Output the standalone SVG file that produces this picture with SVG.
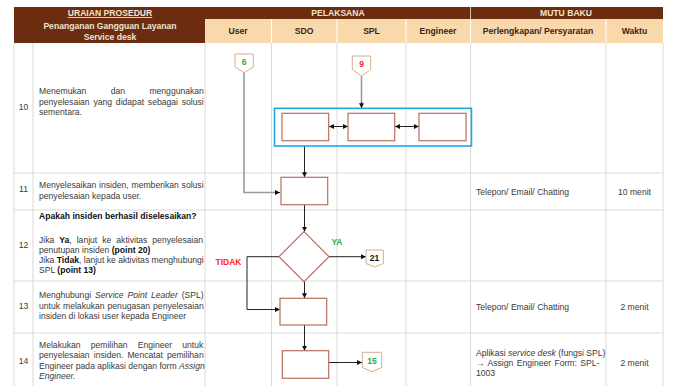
<svg xmlns="http://www.w3.org/2000/svg" width="673" height="386" viewBox="0 0 673 386">
<style>
.g{stroke:#d9d9d9;stroke-width:1;fill:none}
.t{font-family:"Liberation Sans",Arial,sans-serif;font-size:8.6px;fill:#3a3a3a}
.c{text-anchor:middle}
.b{font-weight:bold;fill:#111}
.i{font-style:italic}
.hd{font-family:"Liberation Sans",Arial,sans-serif;font-size:8.6px;font-weight:bold;fill:#f3e3cf;text-anchor:middle}
.hc{font-family:"Liberation Sans",Arial,sans-serif;font-size:8.6px;font-weight:bold;fill:#3b2414;text-anchor:middle}
.box{fill:#fff;stroke:#b86f5c;stroke-width:1.2}
.off{fill:#fff;stroke:#d8ae8c;stroke-width:1}
.ln{stroke:#222;stroke-width:1;fill:none}
.gl{stroke:#9a9a9a;stroke-width:1.6;fill:none}
.lbl{font-family:"Liberation Sans",Arial,sans-serif;font-size:8.5px;font-weight:bold;text-anchor:middle}
</style>
<defs>
<marker id="ah" viewBox="0 0 10 10" refX="10" refY="5" markerWidth="5" markerHeight="5" orient="auto-start-reverse" markerUnits="userSpaceOnUse">
<path d="M0,0 L10,5 L0,10 z" fill="#111"/>
</marker>
</defs>
<rect width="673" height="386" fill="#fff"/>

<g id="table">
<rect x="14" y="7" width="191" height="36" fill="#6b2c10"/>
<rect x="205" y="7" width="458" height="12" fill="#6b2c10"/>
<rect x="205" y="19" width="458" height="24" fill="#f9d9ab"/>
<line x1="470.5" y1="7" x2="470.5" y2="19" stroke="#f3e3cf" stroke-width="0.8"/>
<g stroke="#ffffff" stroke-width="1">
<line x1="271.5" y1="19" x2="271.5" y2="43"/>
<line x1="337" y1="19" x2="337" y2="43"/>
<line x1="406" y1="19" x2="406" y2="43"/>
<line x1="470.5" y1="19" x2="470.5" y2="43"/>
<line x1="606" y1="19" x2="606" y2="43"/>
</g>
<text class="hd" x="110" y="16" text-decoration="underline">URAIAN PROSEDUR</text>
<text class="hd" x="110" y="29">Penanganan Gangguan Layanan</text>
<text class="hd" x="110" y="39.5">Service desk</text>
<text class="hd" x="338" y="16">PELAKSANA</text>
<text class="hd" x="566" y="16">MUTU BAKU</text>
<text class="hc" x="238" y="34">User</text>
<text class="hc" x="304" y="34">SDO</text>
<text class="hc" x="371.5" y="34">SPL</text>
<text class="hc" x="438" y="34">Engineer</text>
<text class="hc" x="538" y="34">Perlengkapan/ Persyaratan</text>
<text class="hc" x="634.5" y="34">Waktu</text>
<g class="g">
<line x1="14" y1="43" x2="14" y2="386"/>
<line x1="33" y1="43" x2="33" y2="386"/>
<line x1="205" y1="43" x2="205" y2="386"/>
<line x1="271.5" y1="43" x2="271.5" y2="386"/>
<line x1="337" y1="43" x2="337" y2="386"/>
<line x1="406" y1="43" x2="406" y2="386"/>
<line x1="470.5" y1="43" x2="470.5" y2="386"/>
<line x1="606" y1="43" x2="606" y2="386"/>
<line x1="663" y1="43" x2="663" y2="386"/>
<line x1="14" y1="173" x2="663" y2="173"/>
<line x1="14" y1="210" x2="663" y2="210"/>
<line x1="14" y1="281" x2="663" y2="281"/>
<line x1="14" y1="333" x2="663" y2="333"/>
</g>
</g>

<g id="texts">
<text class="t c" x="23.5" y="110">10</text>
<text class="t" x="39" y="94" word-spacing="22">Menemukan dan menggunakan</text>
<text class="t" x="39" y="104.5" word-spacing="1.4">penyelesaian yang didapat sebagai solusi</text>
<text class="t" x="39" y="115">sementara.</text>

<text class="t c" x="23.5" y="191.5">11</text>
<text class="t" x="39" y="188" word-spacing="0.4">Menyelesaikan insiden, memberikan solusi</text>
<text class="t" x="39" y="199">penyelesaian kepada user.</text>
<text class="t" x="476" y="195">Telepon/ Email/ Chatting</text>
<text class="t c" x="634.5" y="195">10 menit</text>

<text class="t c" x="23.5" y="248">12</text>
<text class="t b" x="39" y="218.5">Apakah insiden berhasil diselesaikan?</text>
<text class="t" x="39" y="242.5" word-spacing="2.6">Jika <tspan class="b">Ya</tspan>, lanjut ke aktivitas penyelesaian</text>
<text class="t" x="39" y="252.5">penutupan insiden <tspan class="b">(point 20)</tspan></text>
<text class="t" x="39" y="262.5">Jika <tspan class="b">Tidak</tspan>, lanjut ke aktivitas menghubungi</text>
<text class="t" x="39" y="273">SPL <tspan class="b">(point 13)</tspan></text>

<text class="t c" x="23.5" y="309">13</text>
<text class="t" x="39" y="298" word-spacing="1.5">Menghubungi <tspan class="i">Service Point Leader</tspan> (SPL)</text>
<text class="t" x="39" y="308.5" word-spacing="0.6">untuk melakukan penugasan penyelesaian</text>
<text class="t" x="39" y="319">insiden di lokasi user kepada Engineer</text>
<text class="t" x="476" y="309.5">Telepon/ Email/ Chatting</text>
<text class="t c" x="634.5" y="309.5">2 menit</text>

<text class="t c" x="23.5" y="364">14</text>
<text class="t" x="39" y="347.5" word-spacing="7.8">Melakukan pemilihan Engineer untuk</text>
<text class="t" x="39" y="358" word-spacing="1.7">penyelesaian insiden. Mencatat pemilihan</text>
<text class="t" x="39" y="368.5">Engineer pada aplikasi dengan form <tspan class="i">Assign</tspan></text>
<text class="t i" x="39" y="379">Engineer.</text>
<text class="t" x="476" y="356">Aplikasi <tspan class="i">service desk</tspan> (fungsi SPL)</text>
<text class="t" x="476" y="366" word-spacing="1">→ Assign Engineer Form: SPL-</text>
<text class="t" x="476" y="376">1003</text>
<text class="t c" x="634.5" y="366">2 menit</text>
</g>

<g id="connectors">
<path class="gl" d="M244,72.5 V192.5 H276"/>
<path class="ln" d="M276,192.5 H280" marker-end="url(#ah)"/>
<path class="gl" d="M361.5,76 V103"/>
<path class="ln" d="M361.5,102 V108.3" marker-end="url(#ah)"/>
<path class="ln" d="M329,126.5 H348" marker-start="url(#ah)" marker-end="url(#ah)"/>
<path class="ln" d="M395,126.5 H419" marker-start="url(#ah)" marker-end="url(#ah)"/>
<path class="ln" d="M304.5,146 V177.3" marker-end="url(#ah)"/>
<path class="ln" d="M304.5,204.7 V231.7" marker-end="url(#ah)"/>
<path class="ln" d="M329,256.7 H366" marker-end="url(#ah)"/>
<path class="ln" d="M279,256.7 H247 V309.5 H280" marker-end="url(#ah)"/>
<path class="ln" d="M304.5,281.7 V298.3" marker-end="url(#ah)"/>
<path class="ln" d="M304.5,325 V350.7" marker-end="url(#ah)"/>
<path class="ln" d="M328.7,362.5 H362" marker-end="url(#ah)"/>
</g>

<g id="off6"><polygon class="off" points="235,54 253.3,54 253.3,67 244.2,72.7 235,67"/><text class="lbl" x="244.2" y="65" fill="#1fae50">6</text></g>
<g id="off9"><polygon class="off" points="352.3,56 370.7,56 370.7,69.5 361.5,76 352.3,69.5"/><text class="lbl" x="361.5" y="67" fill="#ff2a2a">9</text></g>

<g id="group10"><rect x="274.5" y="108.3" width="197" height="37.7" fill="none" stroke="#1ea8e3" stroke-width="1.6"/></g>
<g id="box10a"><rect class="box" x="282" y="113.3" width="46.7" height="27.4"/></g>
<g id="box10b"><rect class="box" x="348" y="113.3" width="46.7" height="27.4"/></g>
<g id="box10c"><rect class="box" x="419" y="113.3" width="47" height="27.4"/></g>
<g id="box11"><rect class="box" x="281" y="177.3" width="46.7" height="27.4"/></g>
<g id="dec12"><polygon class="box" points="304,231.7 329,256.7 304,281.7 279,256.7"/></g>
<text id="ya" class="lbl" x="337" y="244.5" fill="#1fae50">YA</text>
<text id="tidak" class="lbl" x="228.5" y="265" fill="#ff2a2a">TIDAK</text>
<g id="off21"><polygon class="off" points="366,250 383.3,250 383.3,263.5 374.6,267 366,263.5"/><text class="lbl" x="374.6" y="261" fill="#111">21</text></g>
<g id="box13"><rect class="box" x="280" y="298.3" width="46.7" height="26.7"/></g>
<g id="box14"><rect class="box" x="282.3" y="350.7" width="46.4" height="27.6"/></g>
<g id="off15"><polygon class="off" points="362.3,352.3 381.7,352.3 381.7,367.5 372,371.7 362.3,367.5"/><text class="lbl" x="372" y="364" fill="#1fae50">15</text></g>
</svg>
